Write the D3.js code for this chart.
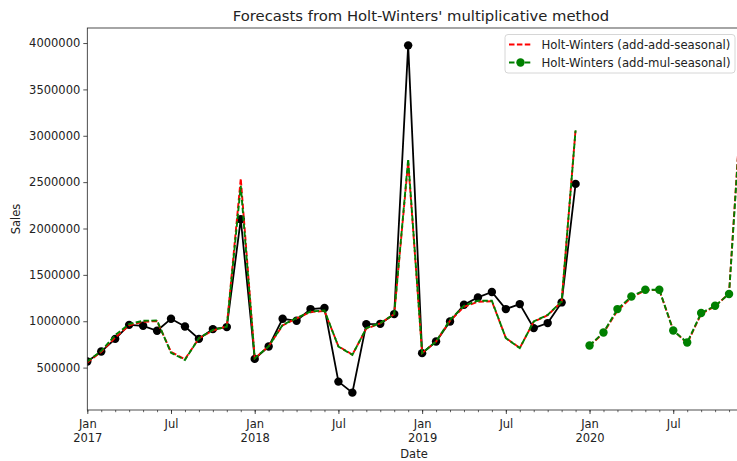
<!DOCTYPE html>
<html>
<head>
<meta charset="utf-8">
<script src="https://cdn.jsdelivr.net/npm/d3@7"></script>
<style>
  html, body { margin: 0; padding: 0; background: #fff; overflow: hidden; }
  svg { display: block; font-family: "DejaVu Sans", sans-serif; }
</style>
</head>
<body>
<svg id="chart" width="737" height="461"></svg>
<script>
// ---------- data ----------
const histMonths = [
  "2017-01","2017-02","2017-03","2017-04","2017-05","2017-06","2017-07","2017-08","2017-09","2017-10","2017-11","2017-12",
  "2018-01","2018-02","2018-03","2018-04","2018-05","2018-06","2018-07","2018-08","2018-09","2018-10","2018-11","2018-12",
  "2019-01","2019-02","2019-03","2019-04","2019-05","2019-06","2019-07","2019-08","2019-09","2019-10","2019-11","2019-12"
];
const fcMonths = [
  "2020-01","2020-02","2020-03","2020-04","2020-05","2020-06","2020-07","2020-08","2020-09","2020-10","2020-11","2020-12"
];
const sales = [
  565000, 673000, 810000, 961000, 951000, 897000, 1026000, 943000, 810000, 915000, 937000, 2100000,
  594000, 727000, 1026000, 1005000, 1131000, 1142000, 349000, 230000, 969000, 972000, 1077000, 3975000,
  656000, 781000, 997000, 1178000, 1257000, 1315000, 1131000, 1185000, 926000, 980000, 1203000, 2481000
];
const fittedAddAdd = [
  555000, 670000, 825000, 955000, 995000, 1000000, 670000, 590000, 815000, 900000, 945000, 2540000,
  600000, 730000, 955000, 1030000, 1100000, 1110000, 730000, 640000, 920000, 978000, 1075000, 2720000,
  656000, 780000, 1005000, 1155000, 1210000, 1215000, 820000, 712000, 995000, 1065000, 1210000, 3070000
];
const fittedAddMul = [
  565000, 680000, 850000, 970000, 1005000, 1008000, 660000, 583000, 818000, 907000, 940000, 2460000,
  600000, 730000, 960000, 1034000, 1105000, 1116000, 727000, 637000, 926000, 980000, 1077000, 2750000,
  656000, 780000, 1015000, 1167000, 1221000, 1221000, 818000, 710000, 997000, 1069000, 1213000, 3060000
];
const forecastAddAdd = [735000, 872000, 1115000, 1255000, 1335000, 1338000, 905000, 760000, 1080000, 1160000, 1300000, 3650000];
const forecastAddMul = [738000, 878000, 1131000, 1267000, 1340000, 1340000, 900000, 770000, 1088000, 1167000, 1293000, 3600000];
const monthNames = ["Jan","Feb","Mar","Apr","May","Jun","Jul","Aug","Sep","Oct","Nov","Dec"];
const titleText = "Forecasts from Holt-Winters' multiplicative method";
const legendLabels = ["Holt-Winters (add-add-seasonal)", "Holt-Winters (add-mul-seasonal)"];

(function () {
// ---------- layout ----------
const svg = d3.select("#chart");
const L = 87.3, R = 743, T = 28, B = 410;
const FS = "11.5px";
const allMonths = histMonths.concat(fcMonths);

const x = d3.scalePoint().domain(allMonths).range([L, R]).padding(0);

const allVals = sales.concat(fittedAddAdd, fittedAddMul, forecastAddAdd, forecastAddMul);
const vmin = d3.min(allVals), vmax = d3.max(allVals);
const pad = (vmax - vmin) * 0.05;
const y = d3.scaleLinear().domain([vmin - pad, vmax + pad]).range([B, T]);

svg.append("defs").append("clipPath").attr("id", "clip")
  .append("rect").attr("x", L).attr("y", T).attr("width", R - L).attr("height", B - T);

// ---------- axes ----------
const yAxis = d3.axisLeft(y)
  .tickValues([500000,1000000,1500000,2000000,2500000,3000000,3500000,4000000])
  .tickFormat(d3.format("d"))
  .tickSize(4).tickPadding(3);
const gy = svg.append("g").attr("transform", `translate(${L},0)`).call(yAxis);
gy.select(".domain").remove();
gy.selectAll("text").attr("font-size", FS).attr("fill", "#222").attr("font-family", "DejaVu Sans");
gy.selectAll("line").attr("stroke", "#222").attr("stroke-width", 0.8);

// minor ticks (monthly)
const gxMinor = svg.append("g").attr("transform", `translate(0,${B})`)
  .call(d3.axisBottom(x).tickValues(allMonths).tickFormat("").tickSize(2.2));
gxMinor.select(".domain").remove();
gxMinor.selectAll("line").attr("stroke", "#222").attr("stroke-width", 0.7);

const majors = allMonths.filter(m => m.endsWith("-01") || m.endsWith("-07"));
const gx = svg.append("g").attr("transform", `translate(0,${B})`)
  .call(d3.axisBottom(x).tickValues(majors).tickFormat("").tickSize(4));
gx.select(".domain").remove();
gx.selectAll("line").attr("stroke", "#222").attr("stroke-width", 0.8);
gx.selectAll(".tick").each(function(d) {
  const [yr, mo] = d.split("-");
  const t = d3.select(this).append("text")
    .attr("text-anchor", "middle").attr("font-size", FS).attr("fill", "#222")
    .attr("font-family", "DejaVu Sans");
  t.append("tspan").attr("x", 0).attr("y", 17.5).text(monthNames[+mo - 1]);
  if (mo === "01") t.append("tspan").attr("x", 0).attr("y", 31.5).text(yr);
});

// ---------- lines ----------
const plot = svg.append("g").attr("clip-path", "url(#clip)");
const line = d3.line().x(d => x(d[0])).y(d => y(d[1]));
const zip = (ms, vs) => ms.map((m, i) => [m, vs[i]]);

const histData = zip(histMonths, sales);
plot.append("path").attr("d", line(histData)).attr("fill", "none")
  .attr("stroke", "#000").attr("stroke-width", 1.8);
plot.selectAll("circle.hist").data(histData).enter().append("circle").attr("class", "hist")
  .attr("cx", d => x(d[0])).attr("cy", d => y(d[1])).attr("r", 4.2).attr("fill", "#000");

const dash = "5.5,2.4";
function dashed(data, color) {
  plot.append("path").attr("d", line(data)).attr("fill", "none")
    .attr("stroke", color).attr("stroke-width", 1.9).attr("stroke-dasharray", dash);
}
dashed(zip(histMonths, fittedAddAdd), "#ff0000");
dashed(zip(histMonths, fittedAddMul), "#008000");
dashed(zip(fcMonths, forecastAddAdd), "#ff0000");
const fcMul = zip(fcMonths, forecastAddMul);
dashed(fcMul, "#008000");
plot.selectAll("circle.fc").data(fcMul).enter().append("circle").attr("class", "fc")
  .attr("cx", d => x(d[0])).attr("cy", d => y(d[1])).attr("r", 4.2).attr("fill", "#008000");

// ---------- frame ----------
svg.append("rect").attr("x", L).attr("y", T).attr("width", R - L).attr("height", B - T)
  .attr("fill", "none").attr("stroke", "#222").attr("stroke-width", 0.8);

// ---------- titles ----------
svg.append("text").attr("x", 421).attr("y", 21).attr("text-anchor", "middle")
  .attr("font-size", "14.8px").attr("fill", "#222").text(titleText);
svg.append("text").attr("x", 414).attr("y", 458).attr("text-anchor", "middle")
  .attr("font-size", FS).attr("fill", "#222").text("Date");
svg.append("text").attr("transform", `translate(20,${(T + B) / 2}) rotate(-90)`)
  .attr("text-anchor", "middle").attr("font-size", FS).attr("fill", "#222").text("Sales");

// ---------- legend ----------
const lg = svg.append("g");
lg.append("rect").attr("x", 505).attr("y", 34.5).attr("width", 230).attr("height", 38.5)
  .attr("rx", 3).attr("fill", "#fff").attr("fill-opacity", 0.8).attr("stroke", "#ccc").attr("stroke-width", 0.8);
const rows = [
  { label: legendLabels[0], color: "#ff0000", marker: false, yy: 44.5 },
  { label: legendLabels[1], color: "#008000", marker: true, yy: 62.5 }
];
rows.forEach(r => {
  lg.append("line").attr("x1", 509).attr("x2", 532).attr("y1", r.yy).attr("y2", r.yy)
    .attr("stroke", r.color).attr("stroke-width", 1.9).attr("stroke-dasharray", dash);
  if (r.marker) lg.append("circle").attr("cx", 520.5).attr("cy", r.yy).attr("r", 4.2).attr("fill", r.color);
  lg.append("text").attr("x", 541.5).attr("y", r.yy + 4).attr("font-size", "11.7px").attr("fill", "#222").text(r.label);
});
})();
</script>
</body>
</html>
